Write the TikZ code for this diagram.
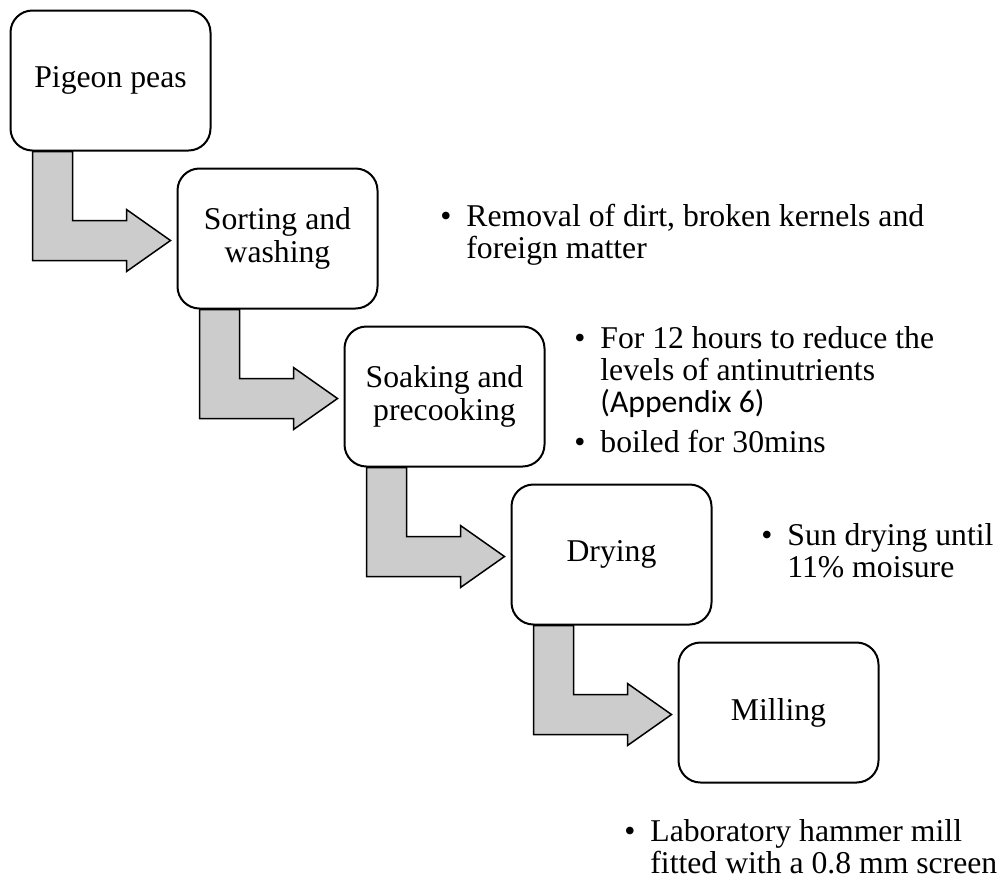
\documentclass[tikz,border=0pt]{standalone}
\usepackage{fontspec}
\setmainfont{Liberation Serif}
\newfontfamily\calibri{Carlito}
\usetikzlibrary{positioning,calc}

\newcommand{\bul}{\makebox[13pt][l]{\textbullet}}
\newcommand{\ind}{\hspace*{13pt}}
% bent block arrow from the foot of one box to the side of the next
\newcommand{\bentarrow}[2]{%
  \coordinate (s) at ($(#1.south west)+(23,0)$);
  \coordinate (t) at ($(#2.west)+(-6,2)$);
  \draw [flow] (s) -- ($(s |- t)+(0,20)$) -- ++(94,0) -- ++(0,11) -- (t)
    -- ($(s |- t)+(94,-31)$) -- ++(0,11) -- ++(-54,0) -- ($(s)+(40,0)$) -- cycle;
}

\begin{document}
\begin{tikzpicture}[
    , x = 0.5pt
    , y = -0.5pt
    , box/.style = {
      , draw
      , line width = 1pt
      , fill = white
      , rounded corners = 11pt
      , minimum width = 100pt
      , minimum height = 70pt
      , align = center
      , font = \fontsize{15.85}{16.5}\selectfont
    }
    , flow/.style = {
      , draw
      , line width = 0.75pt
      , fill = gray!40
    }
    , note/.style = {
      , anchor = base west
      , align = left
      , inner sep = 0pt
      , font = \fontsize{15.85}{16}\selectfont
    }
    , node distance = 8pt and -17.5pt
  ]
    \useasboundingbox (0,0) rectangle (1000,880);
    \node (peas) [box] at (110.5,80.5) {Pigeon peas};
    \node (sort) [box, below right = of peas] {Sorting and\\washing};
    \node (soak) [box, below right = of sort] {Soaking and\\precooking};
    \node (dry) [box, below right = of soak] {Drying};
    \node (mill) [box, below right = of dry] {Milling};
    \bentarrow{peas}{sort}
    \bentarrow{sort}{soak}
    \bentarrow{soak}{dry}
    \bentarrow{dry}{mill}
    % notes are anchored at the baseline of their last line
    \node (sort-note) [note] at (440,258)
      {\bul Removal of dirt, broken kernels and\\\ind foreign matter};
    \node (soak-note) [note] at (574,452)
      {\bul For 12 hours to reduce the\\\ind levels of antinutrients\\\ind {\calibri (Appendix 6)}\\[4pt]\bul boiled for 30mins};
    \node (dry-note) [note] at (761,577)
      {\bul Sun drying until\\\ind 11\% moisure};
    \node (mill-note) [note] at (624,873)
      {\bul Laboratory hammer mill\\\ind fitted with a 0.8 mm screen};
  \end{tikzpicture}
\end{document}
